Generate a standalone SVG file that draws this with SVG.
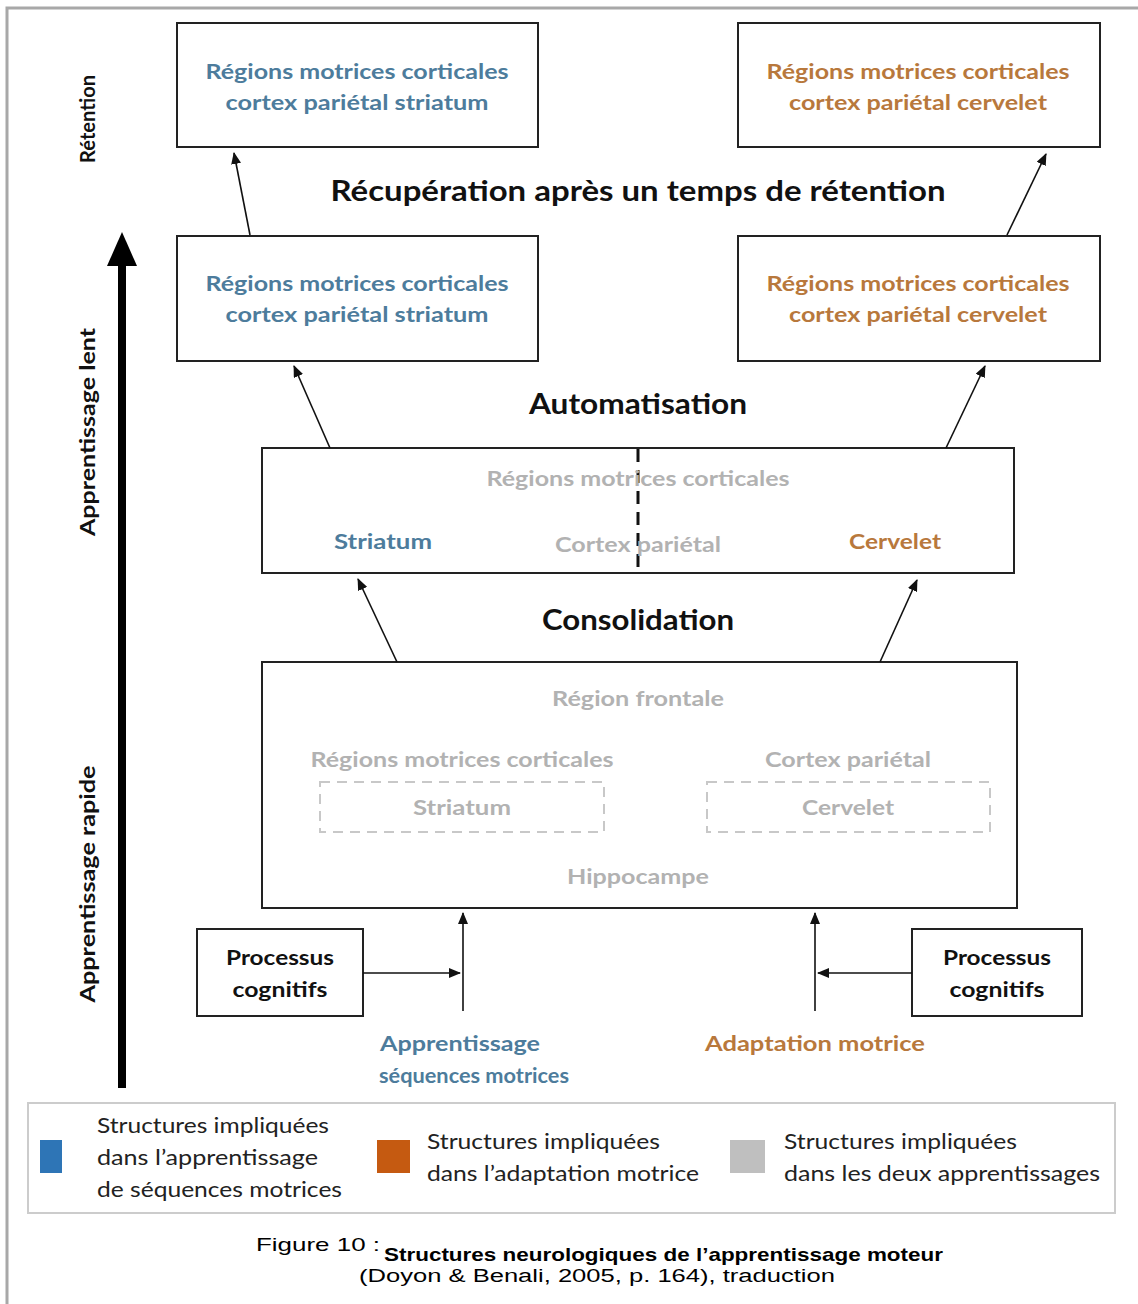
<svg xmlns="http://www.w3.org/2000/svg" width="1138" height="1304" viewBox="0 0 1138 1304">
  <style>
    .box { fill: #ffffff; stroke: #222222; stroke-width: 2; }
    .dbox { fill: none; stroke: #c8c8c8; stroke-width: 2; stroke-dasharray: 10 7; }
    .t { font-family: Lato, "Open Sans", sans-serif; font-weight: bold; text-anchor: middle; }
    .blue { fill: #4d7c9c; font-size: 21px; }
    .orange { fill: #b8783c; font-size: 21px; }
    .gray { fill: #b2b2b2; font-size: 21px; }
    .black { fill: #111111; }
    .head { font-size: 28px; }
    .side { font-size: 20px; fill: #111111; }
    .proc { font-size: 20px; fill: #111111; }
    .conn { stroke: #111111; stroke-width: 1.6; fill: none; }
    .leg { font-family: Lato, "Open Sans", sans-serif; font-size: 21px; fill: #222222; }
    .cap { font-family: "Liberation Sans", Arial, sans-serif; fill: #000000; }
  </style>
  <defs>
    <marker id="ah" viewBox="0 0 12 10" refX="11" refY="5" markerWidth="12" markerHeight="10" markerUnits="userSpaceOnUse" orient="auto">
      <path d="M0,0 L12,5 L0,10 z" fill="#111111"/>
    </marker>
  </defs>

  <rect width="1138" height="1304" fill="#ffffff"/>

  <!-- outer frame (top and left rules) -->
  <path d="M7,1304 L7,8 L1138,8" fill="none" stroke="#a8a8a8" stroke-width="3"/>

  <!-- side labels and the big progression arrow -->
  <g id="axis">
    <text class="t side" transform="translate(95,119) rotate(-90)" textLength="88" lengthAdjust="spacingAndGlyphs">Rétention</text>
    <text class="t side" transform="translate(95,432) rotate(-90)" textLength="208" lengthAdjust="spacingAndGlyphs">Apprentissage lent</text>
    <text class="t side" transform="translate(95,884) rotate(-90)" textLength="237" lengthAdjust="spacingAndGlyphs">Apprentissage rapide</text>
    <rect x="118" y="262" width="8" height="826" fill="#000000"/>
    <path d="M107,266 L122,232 L137,266 z" fill="#000000"/>
  </g>

  <!-- stage headings -->
  <g id="headings">
    <text class="t black head" x="638" y="201" textLength="615" lengthAdjust="spacingAndGlyphs">Récupération après un temps de rétention</text>
    <text class="t black head" x="638" y="414" textLength="218" lengthAdjust="spacingAndGlyphs">Automatisation</text>
    <text class="t black head" x="638" y="630" textLength="192" lengthAdjust="spacingAndGlyphs">Consolidation</text>
  </g>

  <!-- retention boxes -->
  <g id="ret-seq">
    <rect class="box" x="177" y="23" width="361" height="124"/>
    <text class="t blue" x="357" y="79" textLength="303" lengthAdjust="spacingAndGlyphs">Régions motrices corticales</text>
    <text class="t blue" x="357" y="110" textLength="263" lengthAdjust="spacingAndGlyphs">cortex pariétal striatum</text>
  </g>
  <g id="ret-adapt">
    <rect class="box" x="738" y="23" width="362" height="124"/>
    <text class="t orange" x="918" y="79" textLength="303" lengthAdjust="spacingAndGlyphs">Régions motrices corticales</text>
    <text class="t orange" x="918" y="110" textLength="258" lengthAdjust="spacingAndGlyphs">cortex pariétal cervelet</text>
  </g>

  <!-- slow learning boxes -->
  <g id="slow-seq">
    <rect class="box" x="177" y="236" width="361" height="125"/>
    <text class="t blue" x="357" y="291" textLength="303" lengthAdjust="spacingAndGlyphs">Régions motrices corticales</text>
    <text class="t blue" x="357" y="322" textLength="263" lengthAdjust="spacingAndGlyphs">cortex pariétal striatum</text>
  </g>
  <g id="slow-adapt">
    <rect class="box" x="738" y="236" width="362" height="125"/>
    <text class="t orange" x="918" y="291" textLength="303" lengthAdjust="spacingAndGlyphs">Régions motrices corticales</text>
    <text class="t orange" x="918" y="322" textLength="258" lengthAdjust="spacingAndGlyphs">cortex pariétal cervelet</text>
  </g>

  <!-- automatisation box -->
  <g id="auto">
    <rect class="box" x="262" y="448" width="752" height="125"/>
    <line x1="638" y1="449" x2="638" y2="572" stroke="#111111" stroke-width="3" stroke-dasharray="13 8"/>
    <text class="t gray" x="638" y="486" textLength="303" lengthAdjust="spacingAndGlyphs">Régions motrices corticales</text>
    <text class="t blue" x="383" y="549" textLength="98" lengthAdjust="spacingAndGlyphs">Striatum</text>
    <text class="t gray" x="638" y="552" textLength="166" lengthAdjust="spacingAndGlyphs">Cortex pariétal</text>
    <text class="t orange" x="895" y="549" textLength="92" lengthAdjust="spacingAndGlyphs">Cervelet</text>
  </g>

  <!-- consolidation box -->
  <g id="consol">
    <rect class="box" x="262" y="662" width="755" height="246"/>
    <text class="t gray" x="638" y="706" textLength="172" lengthAdjust="spacingAndGlyphs">Région frontale</text>
    <text class="t gray" x="462" y="767" textLength="303" lengthAdjust="spacingAndGlyphs">Régions motrices corticales</text>
    <text class="t gray" x="848" y="767" textLength="166" lengthAdjust="spacingAndGlyphs">Cortex pariétal</text>
    <rect class="dbox" x="320" y="782" width="284" height="50"/>
    <text class="t gray" x="462" y="815" textLength="98" lengthAdjust="spacingAndGlyphs">Striatum</text>
    <rect class="dbox" x="707" y="782" width="283" height="50"/>
    <text class="t gray" x="848" y="815" textLength="92" lengthAdjust="spacingAndGlyphs">Cervelet</text>
    <text class="t gray" x="638" y="884" textLength="142" lengthAdjust="spacingAndGlyphs">Hippocampe</text>
  </g>

  <!-- cognitive process boxes -->
  <g id="proc-left">
    <rect class="box" x="197" y="929" width="166" height="87"/>
    <text class="t proc" x="280" y="965" textLength="108" lengthAdjust="spacingAndGlyphs">Processus</text>
    <text class="t proc" x="280" y="997" textLength="95" lengthAdjust="spacingAndGlyphs">cognitifs</text>
  </g>
  <g id="proc-right">
    <rect class="box" x="912" y="929" width="170" height="87"/>
    <text class="t proc" x="997" y="965" textLength="108" lengthAdjust="spacingAndGlyphs">Processus</text>
    <text class="t proc" x="997" y="997" textLength="95" lengthAdjust="spacingAndGlyphs">cognitifs</text>
  </g>

  <!-- learning type labels -->
  <g id="label-seq">
    <text class="t blue" x="460" y="1051" textLength="160" lengthAdjust="spacingAndGlyphs">Apprentissage</text>
    <text class="t blue" x="474" y="1083" textLength="190" lengthAdjust="spacingAndGlyphs">séquences motrices</text>
  </g>
  <g id="label-adapt">
    <text class="t orange" x="815" y="1051" textLength="220" lengthAdjust="spacingAndGlyphs">Adaptation motrice</text>
  </g>

  <!-- connectors -->
  <g id="connectors">
    <line class="conn" x1="250" y1="235" x2="234" y2="153" marker-end="url(#ah)"/>
    <line class="conn" x1="1007" y1="235" x2="1046" y2="154" marker-end="url(#ah)"/>
    <line class="conn" x1="330" y1="448" x2="294" y2="366" marker-end="url(#ah)"/>
    <line class="conn" x1="946" y1="448" x2="985" y2="366" marker-end="url(#ah)"/>
    <line class="conn" x1="397" y1="662" x2="358" y2="579" marker-end="url(#ah)"/>
    <line class="conn" x1="880" y1="662" x2="917" y2="580" marker-end="url(#ah)"/>
    <line class="conn" x1="463" y1="1011" x2="463" y2="913" marker-end="url(#ah)"/>
    <line class="conn" x1="363" y1="973" x2="460" y2="973" marker-end="url(#ah)"/>
    <line class="conn" x1="815" y1="1011" x2="815" y2="913" marker-end="url(#ah)"/>
    <line class="conn" x1="912" y1="973" x2="818" y2="973" marker-end="url(#ah)"/>
  </g>

  <!-- legend -->
  <g id="legend">
    <rect x="28" y="1103" width="1087" height="110" fill="#ffffff" stroke="#cccccc" stroke-width="2"/>
    <rect x="40" y="1140" width="22" height="33" fill="#2e75b6"/>
    <text class="leg" x="97" y="1133" textLength="232" lengthAdjust="spacingAndGlyphs">Structures impliquées</text>
    <text class="leg" x="97" y="1165" textLength="221" lengthAdjust="spacingAndGlyphs">dans l’apprentissage</text>
    <text class="leg" x="97" y="1197" textLength="245" lengthAdjust="spacingAndGlyphs">de séquences motrices</text>
    <rect x="377" y="1140" width="33" height="33" fill="#c55a11"/>
    <text class="leg" x="427" y="1149" textLength="233" lengthAdjust="spacingAndGlyphs">Structures impliquées</text>
    <text class="leg" x="427" y="1181" textLength="272" lengthAdjust="spacingAndGlyphs">dans l’adaptation motrice</text>
    <rect x="730" y="1140" width="35" height="33" fill="#bfbfbf"/>
    <text class="leg" x="784" y="1149" textLength="233" lengthAdjust="spacingAndGlyphs">Structures impliquées</text>
    <text class="leg" x="784" y="1181" textLength="316" lengthAdjust="spacingAndGlyphs">dans les deux apprentissages</text>
  </g>

  <!-- caption -->
  <g id="caption">
    <text class="cap" x="256" y="1251" font-size="19" textLength="124" lengthAdjust="spacingAndGlyphs">Figure 10 :</text>
    <text class="cap" x="384" y="1261" font-size="19" font-weight="bold" textLength="559" lengthAdjust="spacingAndGlyphs">Structures neurologiques de l’apprentissage moteur</text>
    <text class="cap" x="597" y="1282" font-size="18" text-anchor="middle" textLength="476" lengthAdjust="spacingAndGlyphs">(Doyon &amp; Benali, 2005, p. 164), traduction</text>
  </g>
</svg>
